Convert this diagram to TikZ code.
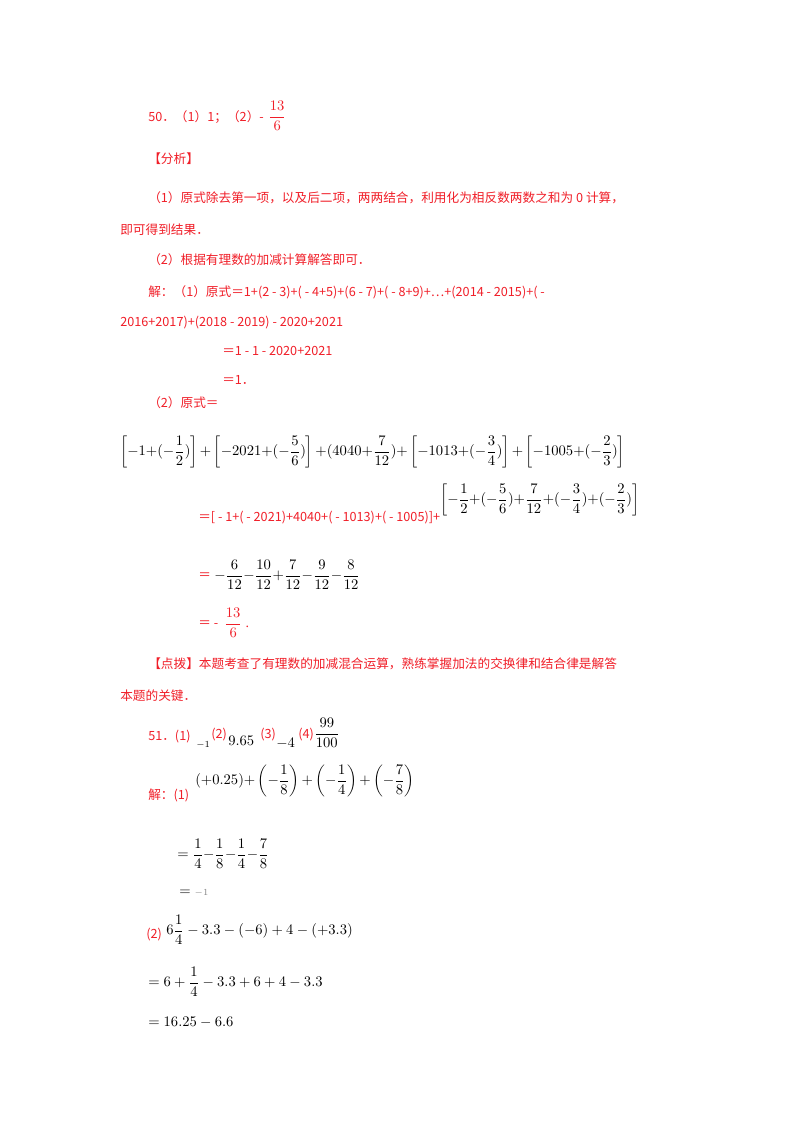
\documentclass[tikz,border=0pt]{standalone}
\usepackage{fontspec}
\setmainfont{Liberation Serif}
\newfontfamily\cjk{Noto Sans CJK SC}
\definecolor{rd}{HTML}{F01E28}
\begin{document}
\begin{tikzpicture}[x=0.75pt,y=-0.75pt,
  t/.style={anchor=base west,inner sep=0pt,font=\cjk\fontsize{9.5}{12}\selectfont,text=rd},
  m/.style={anchor=west,inner sep=0pt,font=\fontsize{10.5}{13}\selectfont},
  rm/.style={m,text=rd}]
\useasboundingbox (0,0) rectangle (800,1132);
\node[t] (a1) at (148,121) {50．（1）1；（2）-};
\node[rm] (a1f) at (268,116) {$\displaystyle\frac{13}{6}$};
\node[t] (a2) at (148,163) {【分析】};
\node[t] (a3) at (148,202) {（1）原式除去第一项，以及后二项，两两结合，利用化为相反数两数之和为 0 计算，};
\node[t] (a4) at (120,234) {即可得到结果．};
\node[t] (a5) at (148,264) {（2）根据有理数的加减计算解答即可．};
\node[t] (a6) at (148,296) {解：（1）原式＝1+(2 - 3)+( - 4+5)+(6 - 7)+( - 8+9)+…+(2014 - 2015)+( -};
\node[t] (a7) at (120,326) {2016+2017)+(2018 - 2019) - 2020+2021};
\node[t] (a8) at (222,355) {＝1 - 1 - 2020+2021};
\node[t] (a9) at (222,384) {＝1．};
\node[t] (a10) at (148,407) {（2）原式＝};
\node[m] (b1) at (120,452) {$\displaystyle\left[-1{+}(-\frac{1}{2})\right]{+}\left[-2021{+}(-\frac{5}{6})\right]{+}(4040{+}\frac{7}{12}){+}\left[-1013{+}(-\frac{3}{4})\right]{+}\left[-1005{+}(-\frac{2}{3})\right]$};
\node[t] (b2) at (198,521) {＝[ - 1+( - 2021)+4040+( - 1013)+( - 1005)]+};
\node[m] (b2m) at (440,500) {$\displaystyle\left[-\frac{1}{2}{+}(-\frac{5}{6}){+}\frac{7}{12}{+}(-\frac{3}{4}){+}(-\frac{2}{3})\right]$};
\node[t] (b3) at (198,579) {＝};
\node[m] (b3m) at (214,575) {$\displaystyle-\frac{6}{12}{-}\frac{10}{12}{+}\frac{7}{12}{-}\frac{9}{12}{-}\frac{8}{12}$};
\node[t] (b4) at (198,627) {＝ -};
\node[rm] (b4m) at (224,623) {$\displaystyle\frac{13}{6}$ .};
\node[t] (c1) at (148,668) {【点拨】本题考查了有理数的加减混合运算，熟练掌握加法的交换律和结合律是解答};
\node[t] (c2) at (120,700) {本题的关键．};
\node[t] (d1) at (148,740) {51．(1)};
\node[m] (d1a) at (196,745) {$_{-1}$};
\node[t] (d1b) at (211,738) {(2)};
\node[m] (d1c) at (228,741) {$9.65$};
\node[t] (d1d) at (260,738) {(3)};
\node[m] (d1e) at (276,743) {$-4$};
\node[t] (d1f) at (298,738) {(4)};
\node[m] (d1g) at (314,733) {$\displaystyle\frac{99}{100}$};
\node[t] (e1) at (148,799) {解：(1)};
\node[m] (e1m) at (195,781) {$\displaystyle(+0.25){+}\left(-\frac{1}{8}\right){+}\left(-\frac{1}{4}\right){+}\left(-\frac{7}{8}\right)$};
\node[m] (e2) at (177,854) {$\displaystyle=\frac{1}{4}{-}\frac{1}{8}{-}\frac{1}{4}{-}\frac{7}{8}$};
\node[m] (e3) at (179,893) {$= {\color{gray}\scriptstyle -1}$};
\node[t] (f1) at (146,938) {(2)};
\node[m] (f1m) at (166,930) {$\displaystyle 6\frac{1}{4}-3.3-(-6)+4-(+3.3)$};
\node[m] (f2) at (148,982) {$\displaystyle =6+\frac{1}{4}-3.3+6+4-3.3$};
\node[m] (f3) at (148,1022) {$=16.25-6.6$};
\end{tikzpicture}
\end{document}
